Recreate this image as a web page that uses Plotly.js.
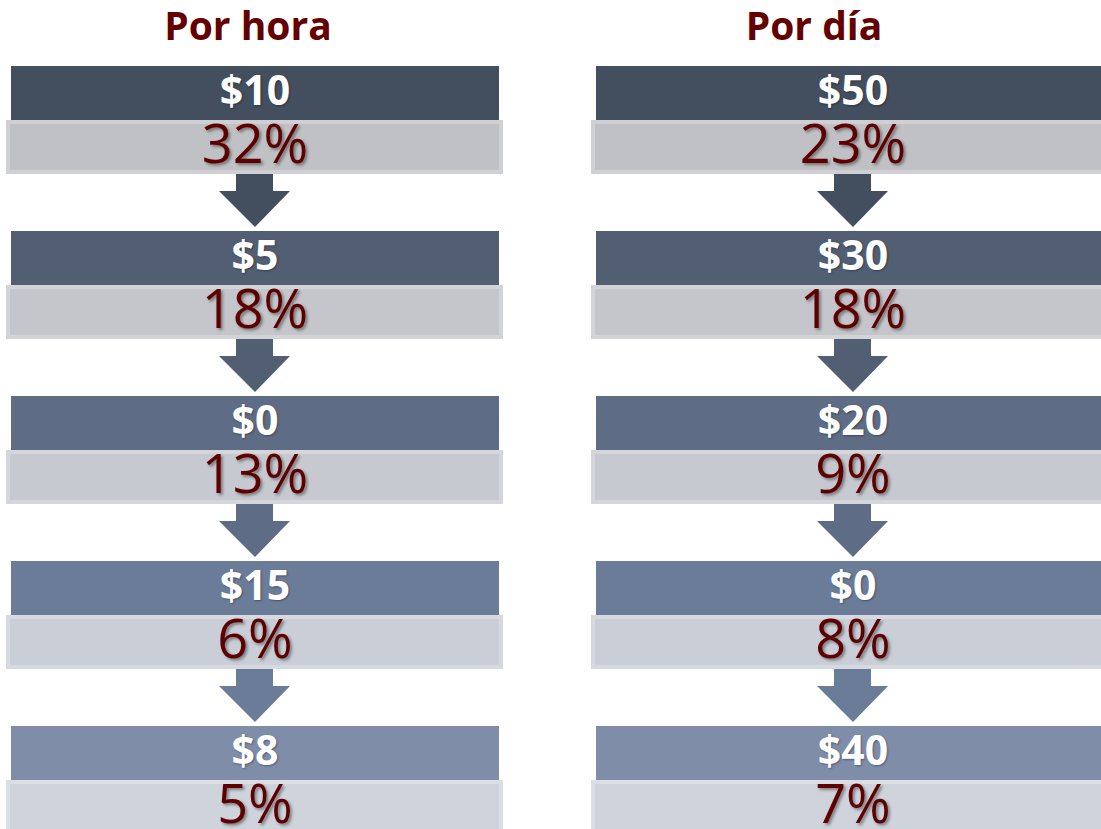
<!DOCTYPE html>
<html>
<head>
<meta charset="utf-8">
<script src="https://cdn.plot.ly/plotly-3.0.1.min.js"></script>
<style>html,body{margin:0;padding:0;background:#fff;}#chart{width:1101px;height:829px;}</style>
</head>
<body>
<div id="chart"></div>
<script>
// ---- data ----
const columnTitles = ['Por hora', 'Por día'];
const hourLabels = ['$10', '$5', '$0', '$15', '$8'];
const hourPct = [32, 18, 13, 6, 5];
const dayLabels = ['$50', '$30', '$20', '$0', '$40'];
const dayPct = [23, 18, 9, 8, 7];

// ---- styles ----
const darkColors = ['#434f5e', '#525f72', '#5e6c85', '#6b7c98', '#7f8da9'];
const grayColors = ['#c0c1c5', '#c4c6cb', '#c6c9cf', '#c9ced7', '#ced3dc'];
const grayBorder = ['#cfd0d3', '#d2d4d8', '#d4d6db', '#d6dae0', '#dadee5'];
const titleColor = '#640000';
const pctColor = '#5e0000';

// layout geometry (pixel-based axes)
const W = 1101, H = 829;
const firstTop = 66, step = 165, barH = 54;
const columns = [
  {cx: 255, left: 11, right: 499, grayL: 6, grayR: 503, labels: hourLabels, pct: hourPct, title: columnTitles[0], titleX: 248},
  {cx: 853, left: 596, right: 1115, grayL: 591, grayR: 1120, labels: dayLabels, pct: dayPct, title: columnTitles[1], titleX: 814}
];

const traces = [];
const font = '"Open Sans", "Noto Sans", sans-serif';

columns.forEach(col => {
  const n = col.labels.length;
  const idx = [...Array(n).keys()];
  const tops = idx.map(i => firstTop + i * step);
  // gray (percentage) bars
  traces.push({
    type: 'bar', orientation: 'h',
    y: tops.map(t => t + barH + barH / 2),
    x: idx.map(() => col.grayR - col.grayL - 4),
    base: idx.map(() => col.grayL + 2),
    width: idx.map(() => barH - 4),
    marker: {color: grayColors, line: {color: grayBorder, width: 4}},
    hoverinfo: 'skip'
  });
  // dark (amount) bars
  traces.push({
    type: 'bar', orientation: 'h',
    y: tops.map(t => t + barH / 2),
    x: idx.map(() => col.right - col.left),
    base: idx.map(() => col.left),
    width: idx.map(() => barH),
    marker: {color: darkColors, line: {width: 0}},
    hoverinfo: 'skip'
  });
  // arrows between rows
  for (let i = 0; i < n - 1; i++) {
    const y0 = tops[i] + 2 * barH;
    const cx = col.cx;
    traces.push({
      type: 'scatter', mode: 'lines', fill: 'toself',
      x: [cx - 19, cx + 18, cx + 18, cx + 35, cx, cx - 36, cx - 19, cx - 19],
      y: [y0, y0, y0 + 17, y0 + 17, y0 + 53, y0 + 17, y0 + 17, y0],
      fillcolor: darkColors[i], line: {width: 0, color: darkColors[i]},
      hoverinfo: 'skip'
    });
  }
  // amount labels
  traces.push({
    type: 'scatter', mode: 'text',
    x: idx.map(() => col.cx), y: tops.map(t => t + 29),
    text: col.labels, textposition: 'middle center',
    textfont: {family: font, size: 41, color: '#ffffff', weight: 'bold', shadow: '1px 1px 2px rgba(0,0,0,0.35)'},
    hoverinfo: 'skip'
  });
  // percentage labels
  traces.push({
    type: 'scatter', mode: 'text',
    x: idx.map(() => col.cx), y: tops.map(t => t + barH + 29),
    text: col.pct.map(v => v + '%'), textposition: 'middle center',
    textfont: {family: font, size: 54, color: pctColor, shadow: '2px 2px 3px rgba(0,0,0,0.4)'},
    hoverinfo: 'skip'
  });
  // column title
  traces.push({
    type: 'scatter', mode: 'text',
    x: [col.titleX], y: [30],
    text: [col.title], textposition: 'middle center',
    textfont: {family: font, size: 39, color: titleColor, weight: 'bold'},
    hoverinfo: 'skip'
  });
});

const layout = {
  width: W, height: H,
  margin: {l: 0, r: 0, t: 0, b: 0},
  paper_bgcolor: '#ffffff', plot_bgcolor: '#ffffff',
  showlegend: false, barmode: 'overlay', hovermode: false,
  xaxis: {range: [0, W], visible: false, fixedrange: true},
  yaxis: {range: [H, 0], visible: false, fixedrange: true}
};

Plotly.newPlot('chart', traces, layout, {displayModeBar: false, staticPlot: true});
</script>
</body>
</html>
